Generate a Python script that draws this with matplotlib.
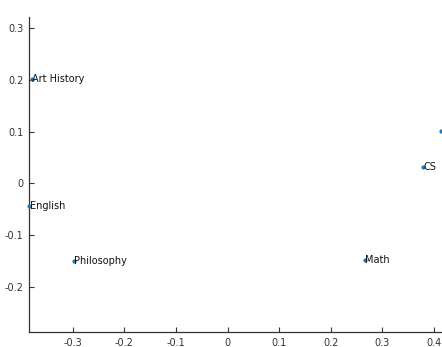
import matplotlib
matplotlib.use("Agg")
import matplotlib.pyplot as plt
from matplotlib.ticker import FuncFormatter, MultipleLocator

plt.rcParams["axes.unicode_minus"] = False

# 2-D embedding of academic subjects
subjects = ["Art History", "English", "Philosophy", "Math", "CS", ""]
x_vals = [-0.3785, -0.3837, -0.298, 0.2656, 0.3778, 0.4126]
y_vals = [0.202, -0.043, -0.150, -0.1477, 0.0314, 0.1017]

fig = plt.figure(figsize=(4.42, 3.47), dpi=100)
ax = fig.add_axes([0.0663, 0.0432, 0.951, 0.909])

ax.scatter(x_vals, y_vals, s=9, color="#1f77b4", zorder=3, clip_on=False,
           linewidths=0)
for name, x, y in zip(subjects, x_vals, y_vals):
    if name:
        ax.annotate(name, (x, y), xytext=(0.3, 0), textcoords="offset points",
                    ha="left", va="center", fontsize=7, color="#111111")

ax.set_xlim(-0.3837, 0.43)
ax.set_ylim(-0.288, 0.323)

ax.xaxis.set_major_locator(MultipleLocator(0.1))
ax.yaxis.set_major_locator(MultipleLocator(0.1))
fmt = FuncFormatter(lambda v, p: "%g" % round(v, 2))
ax.xaxis.set_major_formatter(fmt)
ax.yaxis.set_major_formatter(fmt)

for side in ("top", "right"):
    ax.spines[side].set_visible(False)
for side in ("left", "bottom"):
    ax.spines[side].set_color("#333333")
    ax.spines[side].set_linewidth(0.9)

ax.tick_params(direction="in", length=3.5, width=0.8, colors="#333333",
               labelsize=7, labelcolor="#333333", pad=4)

fig.savefig("out.png", dpi=100)
